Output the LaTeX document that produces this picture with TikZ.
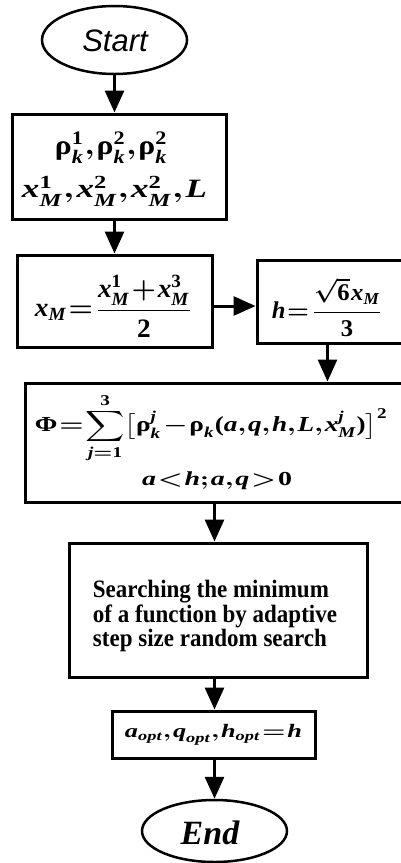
\documentclass[tikz,border=0pt]{standalone}
\usepackage{amsmath}
\usepackage{graphicx}
\usepackage{fontspec}
\setmainfont{Liberation Serif}
\newfontfamily\startfont{Liberation Sans}
\usetikzlibrary{arrows.meta,shapes.geometric}
\newcommand{\V}[1]{\mathord{\text{\bfseries\itshape #1}}}
\newcommand{\R}[1]{\mathord{\text{\bfseries #1}}}
\newcommand{\fitbox}[3]{\resizebox*{#1}{#2}{\thickmuskip=1mu\medmuskip=1mu\thinmuskip=1mu$#3$}}
\tikzset{
  box/.style={draw, line width=3pt, rectangle, inner sep=0pt},
  oval/.style={draw, line width=2.5pt, ellipse, inner sep=0pt},
  arr/.style={line width=3pt, -{Triangle[length=22pt,width=19pt]}},
  txt/.style={inner sep=0pt, font=\boldmath}
}
\begin{document}
\begin{tikzpicture}[x=1pt,y=-1pt]
\useasboundingbox (0,0) rectangle (401,863);
\clip (0,0) rectangle (401,863);
% Start
\node[oval, minimum width=145pt, minimum height=68pt] (start) at (114.5,40) {};
\node[txt] (ts) at (115,41) {\fontsize{31}{31}\selectfont\startfont\itshape Start};
% box 1
\node[box, minimum width=214pt, minimum height=105pt] (b1) at (119,166.5) {};
\node[txt] (b1a) at (111.5,147.5) {\fitbox{113pt}{31pt}{\R{ρ}^{\R{1}}_{\V{k}},\R{ρ}^{\R{2}}_{\V{k}},\R{ρ}^{\R{2}}_{\V{k}}}};
\node[txt] (b1b) at (114.5,191) {\fitbox{185pt}{30pt}{\V{x}^{\R{1}}_{\V{M}},\V{x}^{\R{2}}_{\V{M}},\V{x}^{\R{2}}_{\V{M}},\V{L}}};
% box 2
\node[box, minimum width=195pt, minimum height=92pt] (b2) at (114.5,301) {};
\node[txt] (t2) at (114,306) {\fitbox{158pt}{62pt}{\V{x}_{\V{M}}=\dfrac{\V{x}^{\R{1}}_{\V{M}}+\V{x}^{\R{3}}_{\V{M}}}{\R{2}}}};
% box 3
\node[box, minimum width=203pt, minimum height=83pt] (b3) at (358.5,301.5) {};
\node[txt] (t3) at (327.5,307.5) {\fitbox{111pt}{59pt}{\V{h}=\dfrac{\sqrt{\R{6}}\,\V{x}_{\V{M}}}{\R{3}}}};
% box 4
\node[box, minimum width=434pt, minimum height=119pt] (b4) at (242,442.5) {};
\node[txt] (t4a) at (211.5,428) {\fitbox{353pt}{70pt}{\displaystyle\R{Φ}=\sum_{\V{j}=\R{1}}^{\R{3}}\bigl[\R{ρ}^{\V{j}}_{\V{k}}-\R{ρ}_{\V{k}}\R{(}\V{a},\V{q},\V{h},\V{L},\V{x}^{\V{j}}_{\V{M}}\R{)}\bigr]^{\R{2}}}};
\node[txt] (t4b) at (217,481) {\fitbox{150pt}{18pt}{\V{a}<\V{h};\V{a},\V{q}>\R{0}}};
% box 5
\node[box, minimum width=298pt, minimum height=134pt] (b5) at (218,610) {};
\node[inner sep=0pt] (t5) at (215,617)
  {\scalebox{0.92}[1]{\fontsize{25}{24.5}\selectfont\bfseries\begin{tabular}{@{}l@{}}Searching the minimum\\of a function by adaptive\\step size random search\end{tabular}}};
% box 6
\node[box, minimum width=203pt, minimum height=47pt] (b6) at (213.5,734.5) {};
\node[txt] (t6) at (213.5,735) {\fitbox{177pt}{21pt}{\V{a}_{\V{opt}},\V{q}_{\V{opt}},\V{h}_{\V{opt}}=\V{h}}};
% End
\node[oval, minimum width=145pt, minimum height=62pt] (end) at (214.5,831) {};
\node[inner sep=0pt, font=\bfseries\itshape\fontsize{34}{34}\selectfont] (te) at (210,833) {End};
% arrows
\draw[arr] (start.south -| b1b) -- (b1.north -| b1b);
\draw[arr] (b1.south -| b1b) -- (b2.north -| b1b);
\draw[arr] (b2.east |- t2) -- (b3.west |- t2);
\draw[arr] (b3.south -| t3) -- (b4.north -| t3);
\draw[arr] (b4.south -| end) -- (b5.north -| end);
\draw[arr] (b5.south -| end) -- (b6.north -| end);
\draw[arr] (b6.south -| end) -- (end.north);
\end{tikzpicture}
\end{document}
